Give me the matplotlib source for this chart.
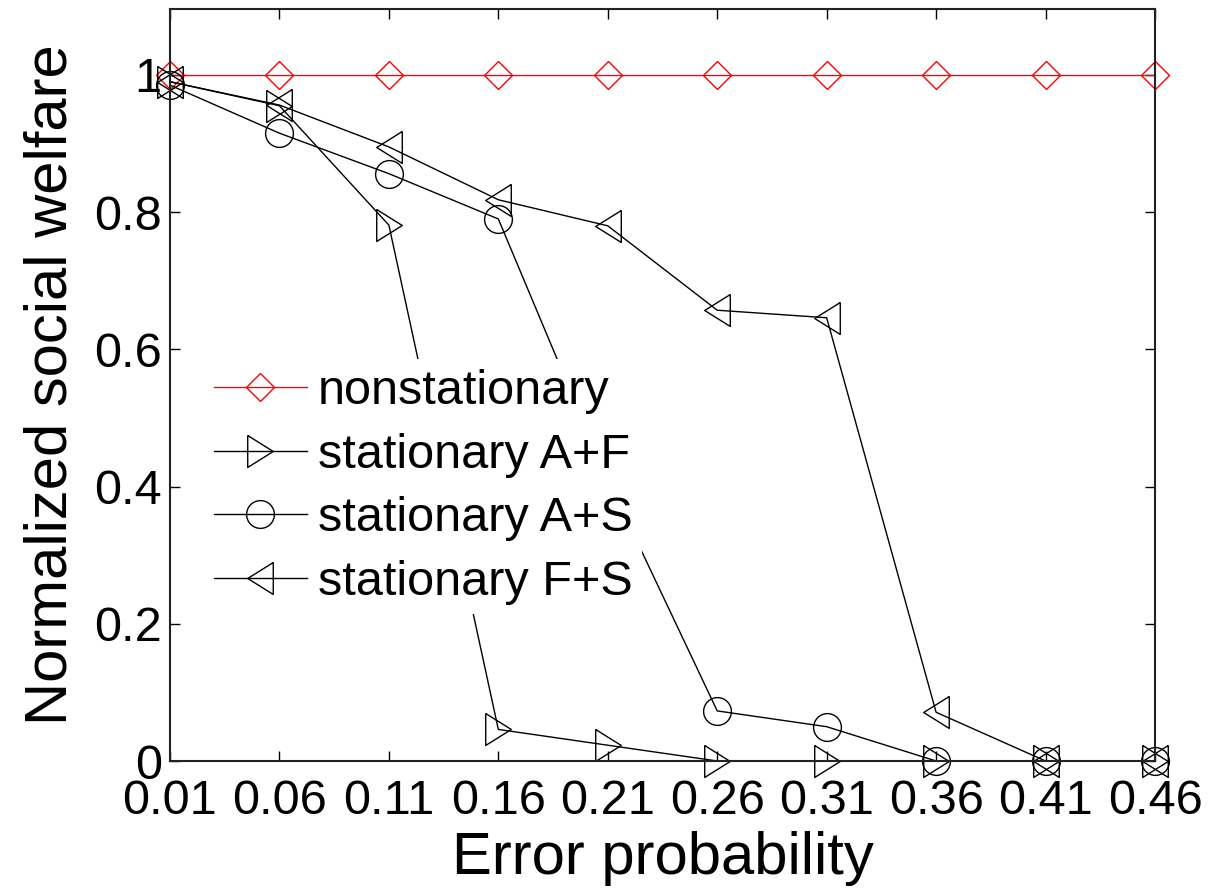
import matplotlib
matplotlib.use("Agg")
import matplotlib.pyplot as plt

plt.rcParams['font.family'] = ['Liberation Sans', 'DejaVu Sans']

x = [0.01, 0.06, 0.11, 0.16, 0.21, 0.26, 0.31, 0.36, 0.41, 0.46]
nonstationary = [1.0, 1.0, 1.0, 1.0, 1.0, 1.0, 1.0, 1.0, 1.0, 1.0]
stationary_af = [0.99, 0.955, 0.781, 0.046, 0.023, 0.0, 0.0, 0.0, 0.0, 0.0]
stationary_as = [0.985, 0.915, 0.856, 0.79, 0.41, 0.073, 0.05, 0.0, 0.0, 0.0]
stationary_fs = [0.99, 0.956, 0.895, 0.818, 0.78, 0.657, 0.646, 0.071, 0.0, 0.0]
labels = ['nonstationary', 'stationary A+F', 'stationary A+S', 'stationary F+S']
xticks = [0.01, 0.06, 0.11, 0.16, 0.21, 0.26, 0.31, 0.36, 0.41, 0.46]
xticklabels = ['0.01', '0.06', '0.11', '0.16', '0.21', '0.26', '0.31', '0.36', '0.41', '0.46']
yticks = [0, 0.2, 0.4, 0.6, 0.8, 1.0]
yticklabels = ['0', '0.2', '0.4', '0.6', '0.8', '1']

fig = plt.figure(figsize=(12.1, 8.88), dpi=100)
ax = fig.add_axes([170/1210, 127/888, 985/1210, 752/888])

tri_right = [(-0.8, 1), (0.8, 0), (-0.8, -1), (-0.8, 1)]
tri_left = [(0.8, 1), (-0.8, 0), (0.8, -1), (0.8, 1)]

lw = 1.0
common = dict(lw=lw, mfc='none', mew=1.0, clip_on=False)
ax.plot(x, nonstationary, color='red', marker='D', ms=14.5, mec='red', label=labels[0], **common)
ax.plot(x, stationary_af, color='black', marker=tri_right, ms=23, mec='black', label=labels[1], **common)
ax.plot(x, stationary_as, color='black', marker='o', ms=20, mec='black', label=labels[2], **common)
ax.plot(x, stationary_fs, color='black', marker=tri_left, ms=23, mec='black', label=labels[3], **common)

ax.set_xlim(0.01, 0.46)
ax.set_ylim(0, 1.096)
ax.set_xticks(xticks)
ax.set_xticklabels(xticklabels)
ax.set_yticks(yticks)
ax.set_yticklabels(yticklabels)
ax.tick_params(direction='in', top=True, right=True, length=7, width=1.0, labelsize=35)
ax.tick_params(axis='x', pad=13)
ax.tick_params(axis='y', pad=6)
for s in ax.spines.values():
    s.set_linewidth(1.5)
    s.set_color('#222222')
    s.set_zorder(3)

ax.set_xlabel('Error probability', fontsize=43, labelpad=5)
ax.set_ylabel('Normalized social welfare', fontsize=43, labelpad=11)

leg = ax.legend(loc='upper left', bbox_to_anchor=(0.035, 0.534), fontsize=35,
                frameon=True, fancybox=False, edgecolor='none', facecolor='white', framealpha=1.0,
                handlelength=1.9, handletextpad=0.23, labelspacing=0.38, borderpad=0.2, borderaxespad=0.0)
leg.set_zorder(5)

fig.savefig('out.png', dpi=100)
